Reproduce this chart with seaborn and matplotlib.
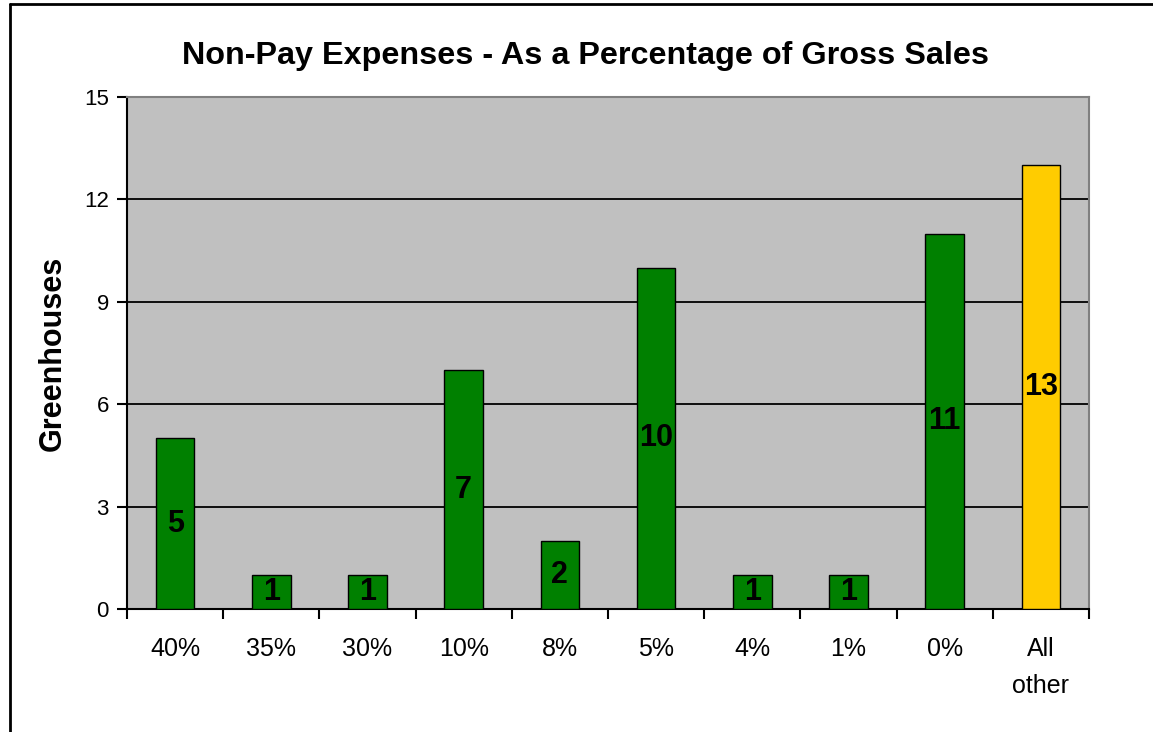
import matplotlib
matplotlib.use("Agg")
import matplotlib.pyplot as plt
from matplotlib.lines import Line2D
import seaborn as sns
import pandas as pd

categories = ["40%", "35%", "30%", "10%", "8%", "5%", "4%", "1%", "0%", "All\nother"]
greenhouses = [5, 1, 1, 7, 2, 10, 1, 1, 11, 13]
bar_colors = ["#008000"] * 9 + ["#FFCC00"]
y_ticks = [0, 3, 6, 9, 12, 15]

sns.set_theme(style="white")
plt.rcParams["font.family"] = ["Liberation Sans", "DejaVu Sans"]
plt.rcParams["text.color"] = "black"
plt.rcParams["axes.labelcolor"] = "black"
plt.rcParams["xtick.color"] = "black"
plt.rcParams["ytick.color"] = "black"

W, H = 1153, 732
fig = plt.figure(figsize=(W / 100, H / 100), dpi=100)
fig.patch.set_facecolor("white")

left, right, top, bottom = 127, 1089, 97, 609
ax = fig.add_axes([left / W, (H - bottom) / H, (right - left) / W, (bottom - top) / H])
ax.set_facecolor("#C0C0C0")

df = pd.DataFrame({"cat": categories, "n": greenhouses})
sns.barplot(data=df, x="cat", y="n", hue="cat", palette=bar_colors, width=0.4,
            legend=False, edgecolor="black", linewidth=1.0, saturation=1, ax=ax, zorder=3)

# value labels placed at mid-height of each bar
for i, v in enumerate(greenhouses):
    ax.text(i, v / 2, str(v), ha="center", va="center", fontsize=22,
            fontweight="bold", color="black", zorder=4)

ax.set_xlim(-0.5, len(categories) - 0.5)
ax.set_ylim(0, 15)
ax.set_yticks(y_ticks)
ax.set_yticklabels([str(t) for t in y_ticks], fontsize=16)
ax.yaxis.grid(True, color="black", linewidth=1.3, zorder=1)
ax.set_axisbelow(True)

# category labels at bar centers, tick marks at category boundaries
ax.set_xticks(range(len(categories)))
ax.set_xticklabels(categories, fontsize=18, linespacing=1.7)
ax.tick_params(axis="x", which="major", length=0, pad=20, colors="black")
ax.set_xticks([i - 0.5 for i in range(len(categories) + 1)], minor=True)
ax.tick_params(axis="x", which="minor", length=7, width=1.5, direction="out", color="black", bottom=True)
ax.tick_params(axis="y", which="major", length=7, width=1.5, direction="out", pad=6,
               color="black", left=True)

ax.set_xlabel("")
ax.set_ylabel("Greenhouses", fontsize=22, fontweight="bold")
ax.yaxis.set_label_coords(-0.062, 0.5)

for side in ("left", "bottom"):
    ax.spines[side].set_color("black")
    ax.spines[side].set_linewidth(1.5)
for side in ("top", "right"):
    ax.spines[side].set_color("#808080")
    ax.spines[side].set_linewidth(1.5)

fig.text(585 / W, 1 - 56 / H, "Non-Pay Expenses - As a Percentage of Gross Sales",
         ha="center", va="center", fontsize=23.3, fontweight="bold")

# outer frame of the chart object
fig.add_artist(Line2D([9.5 / W, 1.0], [1 - 4 / H, 1 - 4 / H], color="black", linewidth=2,
                      transform=fig.transFigure))
fig.add_artist(Line2D([9.5 / W, 9.5 / W], [0, 1 - 4 / H], color="black", linewidth=2,
                      transform=fig.transFigure))

fig.savefig("out.png", dpi=100)
